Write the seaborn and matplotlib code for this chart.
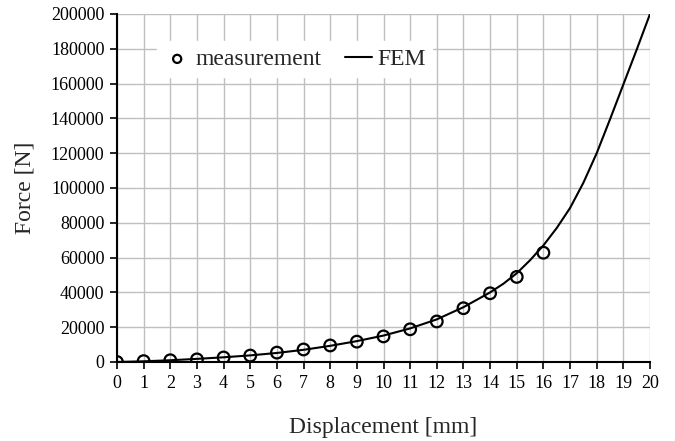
import matplotlib
matplotlib.use("Agg")
import matplotlib.pyplot as plt
import seaborn as sns
import pandas as pd

# Measurement data
meas_disp = [0, 1, 2, 3, 4, 5, 6, 7, 8, 9, 10, 11, 12, 13, 14, 15, 16]
meas_force = [0, 500, 1000, 1500, 2600, 3700, 5400, 7200, 9500, 11700, 14700, 18800, 23300, 30900, 39500, 48900, 62800]

# FEM curve
fem_disp = [0, 1, 2, 3, 4, 5, 6, 7, 8, 9, 10, 11, 12, 13, 14, 14.5, 15, 15.5, 16, 16.5, 17, 17.5, 18,
            18.5, 19, 19.5, 20]
fem_force = [0, 400, 1000, 1800, 2700, 3800, 5200, 7000, 9300, 12000, 15200, 19300, 24500, 31500, 40000, 45000,
             51000, 58500, 67000, 77000, 88500, 103000, 120000, 139500, 159500, 179500, 200000]

x_ticks = list(range(0, 21))
y_ticks = list(range(0, 200001, 20000))

sns.set_theme(style="white")
plt.rcParams['font.family'] = ['Liberation Serif', 'DejaVu Serif']

fig = plt.figure(figsize=(6.75, 4.41), dpi=100)
ax = fig.add_axes([117/675, 1-362/441, (650-117)/675, (362-14)/441])

meas_df = pd.DataFrame({"x": meas_disp, "y": meas_force})
fem_df = pd.DataFrame({"x": fem_disp, "y": fem_force})

sns.lineplot(data=fem_df, x="x", y="y", ax=ax, color="black", lw=1.5, label="FEM", zorder=3)
sns.scatterplot(data=meas_df, x="x", y="y", ax=ax, marker="o", s=70, facecolor="none",
                edgecolor="black", linewidth=1.6, label="measurement", zorder=4)

ax.set_xlim(0, 20)
ax.set_ylim(0, 200000)
ax.set_xticks(x_ticks)
ax.set_yticks(y_ticks)
ax.set_xticklabels([str(v) for v in x_ticks], fontsize=13)
ax.set_yticklabels([str(v) for v in y_ticks], fontsize=13)
ax.grid(True, color="#bfbfbf", lw=1.0)
ax.set_axisbelow(True)
for s in ["top", "right"]:
    ax.spines[s].set_visible(False)
for s in ["left", "bottom"]:
    ax.spines[s].set_color("black")
    ax.spines[s].set_linewidth(1.5)
ax.tick_params(axis="both", direction="out", length=5, width=1.2, color="black", pad=4, labelcolor="black")
ax.tick_params(axis="both", which="both", bottom=True, left=True)

ax.set_xlabel("Displacement [mm]", fontsize=17, labelpad=18)
ax.set_ylabel("Force [N]", fontsize=17, labelpad=11)

handles, labels = ax.get_legend_handles_labels()
order = [labels.index("measurement"), labels.index("FEM")]
leg = ax.legend([handles[i] for i in order], [labels[i] for i in order], ncol=2,
                loc="upper left", bbox_to_anchor=(0.052, 0.955), frameon=True, fancybox=False,
                edgecolor="white", facecolor="white", framealpha=1, fontsize=17,
                handlelength=1.15, handletextpad=0.2, columnspacing=1.0, borderpad=0.3,
                markerscale=0.7)

fig.savefig("out.png", dpi=100)
